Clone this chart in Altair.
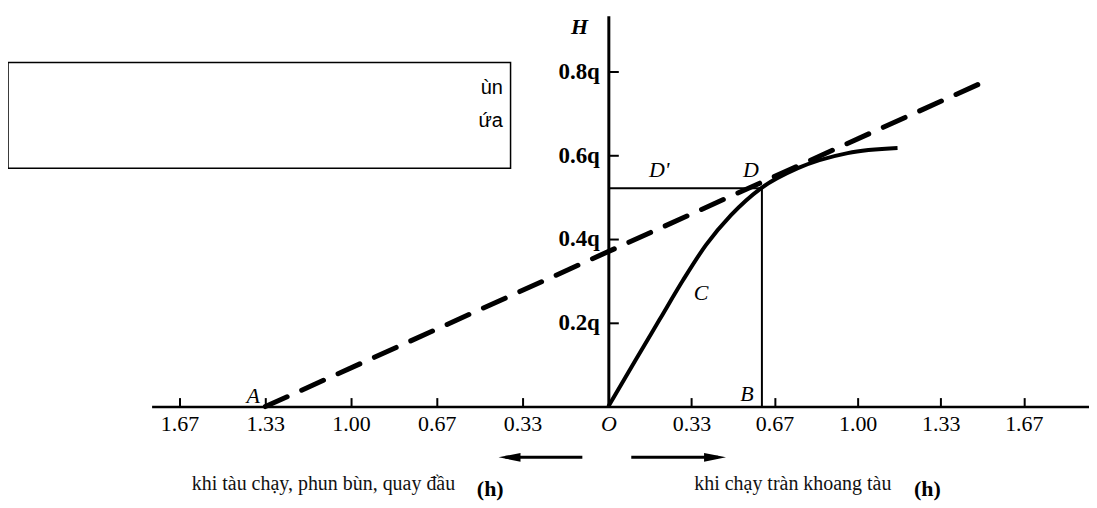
import altair as alt
import pandas as pd

# ---- data ----
x_ticks = [-5/3, -4/3, -1.0, -2/3, -1/3, 0.0, 1/3, 2/3, 1.0, 4/3, 5/3]
y_ticks = [0.2, 0.4, 0.6, 0.8]

curve_x = [0.0, 0.110, 0.205, 0.300, 0.392, 0.492, 0.612, 0.760, 0.960, 1.160]
curve_y = [0.0, 0.112, 0.207, 0.302, 0.386, 0.457, 0.521, 0.569, 0.605, 0.617]

dash_x = [-1.333, 1.484]
dash_y = [0.0, 0.769]

d_x = 0.616
d_y = 0.521

letter_text = ["A", "D'", "D", "C", "B"]
letter_x = [-1.380, 0.204, 0.572, 0.372, 0.556]
letter_y = [0.026, 0.564, 0.564, 0.271, 0.031]

bottom_text = ["khi tàu chạy, phun bùn, quay đầu", "khi chạy tràn khoang tàu"]
bottom_x = [-1.107, 0.740]
bottom_y = [-0.185, -0.185]

h_text = ["(h)", "(h)"]
h_x = [-0.459, 1.280]
h_y = [-0.196, -0.196]

arrow_dir = ["L", "R"]
arrow_from = [-0.101, 0.092]
arrow_to = [-0.400, 0.440]
arrow_head = [-0.384, 0.428]
arrow_y = [-0.121, -0.121]

box_x = [-2.333, -0.380]
box_y = [0.569, 0.821]
box_text = ["ùn", "ứa"]
box_text_x = [-0.410, -0.410]
box_text_y = [0.760, 0.681]

# ---- scales ----
XS = alt.Scale(domain=[-1.775, 0, 1.928], range=[0, 458, 940], nice=False, zero=False)
YS = alt.Scale(domain=[0, 0.933], nice=False, zero=False)

SERIF = "Liberation Serif"

x_label_axis = alt.Axis(
    orient="bottom", values=x_ticks,
    labelExpr="datum.value == 0 ? 'O' : format(abs(datum.value), '.2f')",
    ticks=False, tickSize=0, grid=False,
    domain=True, domainColor="black", domainWidth=2.5,
    labelFont=SERIF, labelFontSize=22, labelColor="black", labelPadding=7,
    labelFontStyle={"condition": {"test": "datum.value == 0", "value": "italic"}, "value": "normal"},
    labelOverlap=False, labelFlush=False, title=None,
)
x_tick_axis = alt.Axis(
    orient="top", offset=-392, values=[v for v in x_ticks if v != 0],
    ticks=True, tickSize=9, tickWidth=2, tickColor="black",
    labels=False, domain=False, grid=False, title=None,
)
y_label_axis = alt.Axis(
    orient="left", offset=-458, values=y_ticks,
    labelExpr="format(datum.value, '.1f') + 'q'",
    ticks=False, tickSize=0, grid=False,
    domain=True, domainColor="black", domainWidth=3,
    labelFont=SERIF, labelFontSize=23, labelFontWeight="bold", labelColor="black",
    labelPadding=9, title=None,
)
y_tick_axis = alt.Axis(
    orient="right", offset=-482, values=y_ticks,
    ticks=True, tickSize=10, tickWidth=2, tickColor="black",
    labels=False, domain=False, grid=False, title=None,
)

def X(field, axis=None):
    return alt.X(field, type="quantitative", scale=XS, axis=axis, title=None)

def Y(field, axis=None):
    return alt.Y(field, type="quantitative", scale=YS, axis=axis, title=None)

curve_df = pd.DataFrame({"x": curve_x, "y": curve_y})
dash_df = pd.DataFrame({"x": dash_x, "y": dash_y})
rules_df = pd.DataFrame({"x": [0.0, d_x], "x2": [d_x, d_x], "y": [d_y, 0.0], "y2": [d_y, d_y]})
letters_df = pd.DataFrame({"t": letter_text, "x": letter_x, "y": letter_y})
bottom_df = pd.DataFrame({"t": bottom_text, "x": bottom_x, "y": bottom_y})
h_df = pd.DataFrame({"t": h_text, "x": h_x, "y": h_y})
arrows_df = pd.DataFrame({"d": arrow_dir, "x": arrow_from, "x2": arrow_to, "h": arrow_head, "y": arrow_y})
box_df = pd.DataFrame({"x": [box_x[0]], "x2": [box_x[1]], "y": [box_y[0]], "y2": [box_y[1]]})
boxtext_df = pd.DataFrame({"t": box_text, "x": box_text_x, "y": box_text_y})

curve = alt.Chart(curve_df).mark_line(color="black", strokeWidth=4, interpolate="monotone").encode(
    x=X("x", x_label_axis), y=Y("y", y_label_axis))

dash = alt.Chart(dash_df).mark_line(color="black", strokeWidth=5, strokeDash=[24, 16], strokeCap="round").encode(
    x=X("x", x_tick_axis), y=Y("y", y_tick_axis))

rules = alt.Chart(rules_df).mark_rule(color="black", strokeWidth=2).encode(
    x=X("x"), x2="x2", y=Y("y"), y2="y2")

shafts = alt.Chart(arrows_df).mark_rule(color="black", strokeWidth=3).encode(
    x=X("x"), x2="x2", y=Y("y"))

heads = alt.Chart(arrows_df).mark_point(filled=True, color="black", opacity=1, size=484).encode(
    x=X("h"), y=Y("y"),
    shape=alt.Shape("d:N", scale=alt.Scale(domain=["L", "R"],
                    range=["M -1 0 L 1 -0.4 L 1 0.4 Z", "M 1 0 L -1 -0.4 L -1 0.4 Z"]), legend=None))

letters = alt.Chart(letters_df).mark_text(font=SERIF, fontSize=22, fontStyle="italic", color="black",
                                          align="center", baseline="middle").encode(
    x=X("x"), y=Y("y"), text="t:N")

h_label = alt.Chart(pd.DataFrame({"t": ["H"], "x": [-0.112], "y": [0.905]})).mark_text(
    font=SERIF, fontSize=22, fontStyle="italic", fontWeight="bold", color="black",
    align="center", baseline="middle").encode(x=X("x"), y=Y("y"), text="t:N")

bottom = alt.Chart(bottom_df).mark_text(font=SERIF, fontSize=20, color="#111111",
                                        align="center", baseline="middle").encode(
    x=X("x"), y=Y("y"), text="t:N")

hunits = alt.Chart(h_df).mark_text(font=SERIF, fontSize=22, fontWeight="bold", color="black",
                                   align="center", baseline="middle").encode(
    x=X("x"), y=Y("y"), text="t:N")

box = alt.Chart(box_df).mark_rect(fill="white", stroke="black", strokeWidth=1.5).encode(
    x=X("x"), x2="x2", y=Y("y"), y2="y2")

boxtext = alt.Chart(boxtext_df).mark_text(font="Liberation Sans", fontSize=20, color="black",
                                          align="right", baseline="middle").encode(
    x=X("x"), y=Y("y"), text="t:N")

chart = alt.layer(
    curve, dash, rules, shafts, heads, letters, h_label, bottom, hunits, box, boxtext
).resolve_axis(x="independent", y="independent").properties(
    width=940, height=392,
    autosize=alt.AutoSizeParams(type="none"),
    padding={"left": 144, "top": 7, "right": 0, "bottom": 95},
    background="white",
).configure_view(stroke=None)

chart.save("out.html", embed_options={"renderer": "svg", "actions": False})
